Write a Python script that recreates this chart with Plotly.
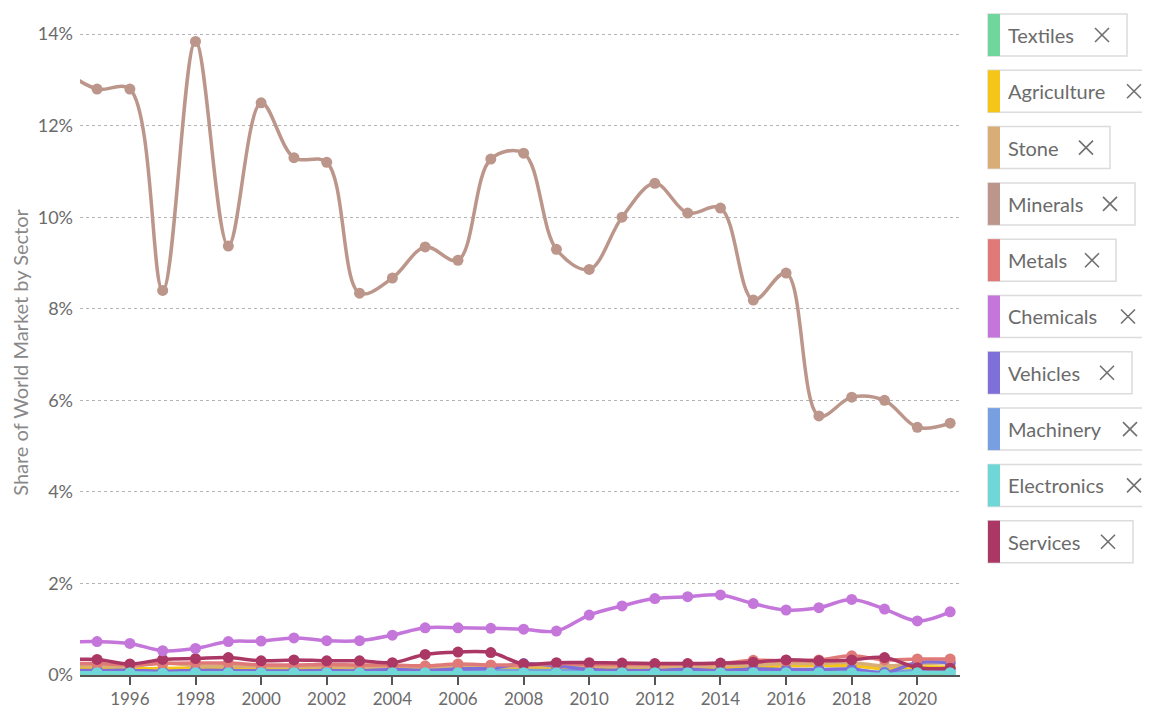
import plotly.graph_objects as go

years = list(range(1994, 2022))

textiles = [0.03, 0.03, 0.03, 0.02, 0.03, 0.03, 0.03, 0.03, 0.03, 0.03, 0.03, 0.03, 0.03, 0.03, 0.03, 0.03, 0.03, 0.03, 0.03, 0.03, 0.03, 0.03, 0.03, 0.03, 0.03, 0.02, 0.03, 0.03]
agriculture = [0.15, 0.15, 0.14, 0.14, 0.15, 0.15, 0.13, 0.14, 0.13, 0.12, 0.14, 0.13, 0.13, 0.13, 0.14, 0.14, 0.14, 0.14, 0.13, 0.13, 0.13, 0.18, 0.2, 0.21, 0.2, 0.14, 0.17, 0.17]
stone = [0.2, 0.2, 0.18, 0.27, 0.2, 0.2, 0.18, 0.18, 0.18, 0.17, 0.17, 0.16, 0.18, 0.17, 0.2, 0.2, 0.2, 0.18, 0.18, 0.18, 0.2, 0.22, 0.25, 0.25, 0.27, 0.2, 0.25, 0.27]
minerals = [13.2, 12.8, 12.8, 8.4, 13.84, 9.37, 12.5, 11.3, 11.2, 8.34, 8.67, 9.35, 9.06, 11.27, 11.4, 9.3, 8.86, 10.0, 10.74, 10.09, 10.2, 8.19, 8.78, 5.66, 6.07, 6.0, 5.41, 5.5]
metals = [0.25, 0.25, 0.22, 0.25, 0.26, 0.26, 0.22, 0.22, 0.23, 0.22, 0.22, 0.2, 0.24, 0.22, 0.22, 0.25, 0.23, 0.23, 0.23, 0.24, 0.25, 0.32, 0.31, 0.33, 0.42, 0.33, 0.35, 0.35]
chemicals = [0.72, 0.73, 0.69, 0.53, 0.58, 0.73, 0.74, 0.81, 0.75, 0.75, 0.87, 1.03, 1.03, 1.02, 1.0, 0.96, 1.31, 1.51, 1.67, 1.71, 1.75, 1.56, 1.42, 1.47, 1.65, 1.44, 1.18, 1.38]
vehicles = [0.1, 0.1, 0.1, 0.08, 0.1, 0.1, 0.09, 0.09, 0.1, 0.09, 0.12, 0.1, 0.13, 0.15, 0.25, 0.2, 0.12, 0.1, 0.1, 0.12, 0.1, 0.13, 0.12, 0.12, 0.13, 0.05, 0.27, 0.27]
machinery = [0.08, 0.08, 0.08, 0.07, 0.08, 0.08, 0.08, 0.08, 0.08, 0.08, 0.09, 0.09, 0.09, 0.1, 0.1, 0.1, 0.09, 0.09, 0.09, 0.09, 0.09, 0.1, 0.1, 0.1, 0.1, 0.06, 0.1, 0.1]
electronics = [0.05, 0.05, 0.05, 0.04, 0.05, 0.05, 0.05, 0.05, 0.05, 0.05, 0.05, 0.05, 0.05, 0.05, 0.05, 0.05, 0.05, 0.05, 0.05, 0.05, 0.05, 0.05, 0.05, 0.05, 0.05, 0.01, 0.05, 0.05]
services = [0.33, 0.34, 0.24, 0.34, 0.36, 0.38, 0.31, 0.33, 0.31, 0.31, 0.27, 0.45, 0.5, 0.49, 0.24, 0.27, 0.27, 0.26, 0.25, 0.25, 0.26, 0.28, 0.33, 0.31, 0.33, 0.38, 0.16, 0.15]

sector_names = ["Textiles", "Agriculture", "Stone", "Minerals", "Metals",
                "Chemicals", "Vehicles", "Machinery", "Electronics", "Services"]
sector_values = [textiles, agriculture, stone, minerals, metals,
                 chemicals, vehicles, machinery, electronics, services]
sector_colors = ["#6fd69c", "#f5c518", "#d9ad78", "#bc968a", "#e07a78",
                 "#c476da", "#7e70d8", "#78a0e0", "#6fd7d7", "#ab3764"]

x_ticks = list(range(1996, 2021, 2))
y_ticks = [0, 2, 4, 6, 8, 10, 12, 14]
y_tick_labels = ["0%", "2%", "4%", "6%", "8%", "10%", "12%", "14%"]

FONT = "Lato, 'Source Sans Pro', sans-serif"
GRAY = "#6b6b6b"

fig = go.Figure()
draw_order = [0, 1, 2, 7, 6, 4, 9, 8, 5, 3]
for i in draw_order:
    fig.add_trace(go.Scatter(
        x=years, y=sector_values[i], name=sector_names[i],
        mode="lines+markers",
        line=dict(color=sector_colors[i], width=3.5, shape="spline", smoothing=1.0),
        marker=dict(color=sector_colors[i], size=11),
        showlegend=False,
    ))

# page has an 8px body margin; figure coordinates = page coordinates - 8
OFF = 8
W, H = 1142, 701
L, R, T, B = 72, 190, 22, 34
pw, ph = W - L - R, H - T - B

def px_x(x):
    return (x - OFF - L) / pw

def px_y(y):
    return (OFF + H - B - y) / ph

shapes = []
annotations = []
box_right = [1127, 1152, 1110, 1135, 1116, 1152, 1132, 1152, 1152, 1133]
x_mark = [1102, 1134, 1086, 1110, 1092, 1128, 1107, 1130, 1134, 1108]
for k, name in enumerate(sector_names):
    top = 14 + k * 56.3
    bot = top + 42
    mid = (top + bot) / 2
    shapes.append(dict(type="rect", xref="paper", yref="paper",
                       x0=px_x(988), x1=px_x(box_right[k]), y0=px_y(bot), y1=px_y(top),
                       line=dict(color="#dcdcdc", width=1.5), fillcolor="white", layer="above"))
    shapes.append(dict(type="rect", xref="paper", yref="paper",
                       x0=px_x(988), x1=px_x(1000), y0=px_y(bot), y1=px_y(top),
                       line=dict(width=0), fillcolor=sector_colors[k], layer="above"))
    annotations.append(dict(xref="paper", yref="paper", x=px_x(1006), y=px_y(mid),
                            text=name, showarrow=False, xanchor="left", yanchor="middle",
                            font=dict(family=FONT, size=20, color=GRAY)))
    cx = x_mark[k]
    for dy in (-1, 1):
        shapes.append(dict(type="line", xref="paper", yref="paper",
                           x0=px_x(cx - 7), x1=px_x(cx + 7),
                           y0=px_y(mid - 7 * dy), y1=px_y(mid + 7 * dy),
                           line=dict(color="#707070", width=1.6), layer="above"))

fig.update_layout(
    width=W, height=H,
    margin=dict(l=L, r=R, t=T, b=B, autoexpand=False),
    paper_bgcolor="white", plot_bgcolor="white",
    font=dict(family=FONT, color=GRAY),
    shapes=shapes, annotations=annotations,
    xaxis=dict(range=[1994.48, 2021.3], tickmode="array", tickvals=x_ticks,
               ticktext=[str(t) for t in x_ticks], automargin=False,
               showgrid=False, zeroline=False, showline=True, linecolor="#555", linewidth=1.5,
               ticks="outside", ticklen=8, tickwidth=1.5, tickcolor="#555",
               tickfont=dict(family=FONT, size=17, color=GRAY)),
    yaxis=dict(range=[0, 14.09], tickmode="array", tickvals=y_ticks, ticktext=y_tick_labels,
               automargin=False,
               showgrid=True, gridcolor="#b5b5b5", griddash="dot", gridwidth=1,
               zeroline=False, showline=False, ticks="", ticklabelstandoff=6,
               tickfont=dict(family=FONT, size=18, color=GRAY),
               title=dict(text="Share of World Market by Sector", standoff=12,
                          font=dict(family=FONT, size=20, color="#888"))),
)

fig.write_html("out.html")
